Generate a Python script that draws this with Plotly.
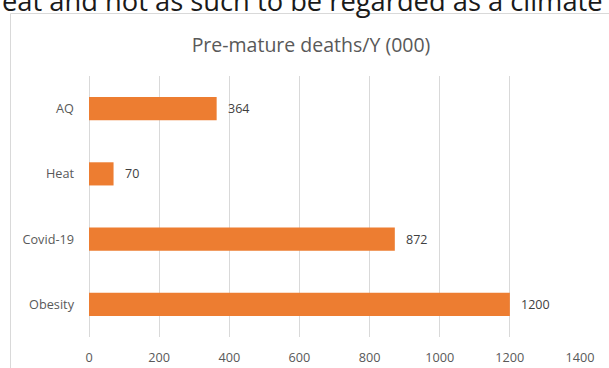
import plotly.graph_objects as go

# Premature deaths per year, thousands
categories = ["AQ", "Heat", "Covid-19", "Obesity"]
deaths = [364, 70, 872, 1200]
x_ticks = [0, 200, 400, 600, 800, 1000, 1200, 1400]

W, H = 609, 368
ML, MR, MT, MB = 89, 29, 76, 31
PW, PH = W - ML - MR, H - MT - MB

def px_x(px):
    return (px - ML) / PW

def px_y(py):
    return (H - MB - py) / PH

FONT = "Open Sans"
GRID = "#d9d9d9"

fig = go.Figure(
    go.Bar(
        y=categories,
        x=deaths,
        orientation="h",
        marker=dict(color="#ED7D31", line=dict(width=0)),
        hoverinfo="x+y",
    )
)

# value labels just past each bar end
for cat, val in zip(categories, deaths):
    fig.add_annotation(
        x=val, y=cat, xref="x", yref="y",
        text=str(val), showarrow=False,
        xanchor="left", yanchor="middle", xshift=9,
        font=dict(family=FONT, size=12.5, color="#404040"),
    )

# running text of the surrounding document, cut by the top edge
fig.add_annotation(
    x=px_x(605), y=px_y(21), xref="paper", yref="paper",
    text="eat and not as such to be regarded as a climate",
    showarrow=False, xanchor="right", yanchor="bottom",
    font=dict(family=FONT, size=27.3, color="#1a1a1a"),
)

# chart frame
fig.add_shape(
    type="rect", xref="paper", yref="paper",
    x0=px_x(10.5), x1=px_x(640), y0=px_y(400), y1=px_y(13.5),
    line=dict(color=GRID, width=1), fillcolor="rgba(0,0,0,0)", layer="below",
)

fig.update_layout(
    width=W, height=H,
    margin=dict(l=ML, r=MR, t=MT, b=MB, autoexpand=False),
    paper_bgcolor="white", plot_bgcolor="white",
    showlegend=False,
    bargap=0.645,
    title=dict(
        text="Pre-mature deaths/Y (000)",
        x=311 / W, xanchor="center",
        y=1 - 45 / H, yanchor="middle",
        font=dict(family=FONT, size=19.5, color="#595959"),
    ),
    xaxis=dict(
        range=[0, 1400], tickvals=x_ticks, ticktext=[str(t) for t in x_ticks],
        showgrid=True, gridcolor=GRID, gridwidth=1,
        zeroline=True, zerolinecolor=GRID, zerolinewidth=1,
        showline=False, ticks="", ticklabelstandoff=11,
        tickfont=dict(family=FONT, size=12.7, color="#595959"),
        fixedrange=True, automargin=False,
    ),
    yaxis=dict(
        categoryorder="array", categoryarray=categories[::-1],
        showgrid=False, zeroline=False, showline=False, ticks="",
        ticklabelstandoff=14,
        tickfont=dict(family=FONT, size=12.7, color="#595959"),
        fixedrange=True, automargin=False,
    ),
)

fig.write_html("out.html")
